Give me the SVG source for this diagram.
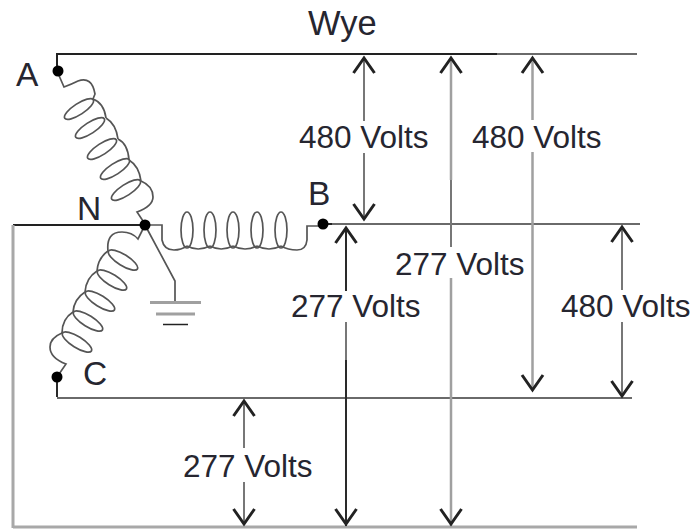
<svg xmlns="http://www.w3.org/2000/svg" width="693" height="530" viewBox="0 0 693 530">
<style>
text{font-family:"Liberation Sans",Arial,sans-serif;font-size:31.500px;fill:#262630}
.n{font-size:33.500px}
.w{fill:none;stroke:#222;stroke-width:2}
.l{fill:none;stroke:#6a6a6a;stroke-width:2}
.g{fill:none;stroke:#a8a8a8;stroke-width:3}
.c{fill:none;stroke:#555;stroke-width:1.700}
.e{fill:none;stroke:#555;stroke-width:1.700}
.a{fill:none;stroke:#222;stroke-width:3}
.s{fill:none;stroke:#777;stroke-width:2}
.t{fill:none;stroke:#a0a0a0;stroke-width:2.500}
.k{fill:none;stroke:#2a2a2a;stroke-width:2}
.d{fill:#000}
</style>
<rect width="693" height="530" fill="#fff"/>
<g id="connectors">
<path class="w" d="M57 71V54H497"/>
<path class="l" d="M497 54H637"/>
<path class="w" d="M145 225H13"/>
<path class="g" d="M13 225V528"/>
<path class="g" d="M13 527H637"/>
<path class="l" d="M330 224H640"/>
<path class="w" d="M323 224H332"/>
<path class="k" d="M57 377V397"/>
<path class="l" d="M57 398H632"/>
<g id="arrows">
<path class="s" d="M364 58V121M364 153V219"/>
<path class="a" d="M353.500 73L364 58L374.500 73M353.500 204L364 219L374.500 204"/>
<path class="t" d="M451 58V180M451 278V526"/>
<path class="s" d="M451 180V247"/>
<path class="a" d="M440.500 73L451 58L461.500 73M440.500 509L451 524L461.500 509"/>
<path class="t" d="M532.500 58V120M532.500 152V390"/>
<path class="a" d="M522 73L532.500 58L543 73M522 375L532.500 390L543 375"/>
<path class="s" d="M622 227V290M622 322V396"/>
<path class="a" d="M611.500 242L622 227L632.500 242M611.500 381L622 396L632.500 381"/>
<path class="k" d="M346 227V291M346 360V526"/>
<path class="s" d="M346 322V360"/>
<path class="a" d="M335.500 243L346 228L356.500 243M335.500 509L346 524L356.500 509"/>
<path class="s" d="M244 400V448M244 482V524"/>
<path class="a" d="M233.500 416L244 401L254.500 416M233.500 509L244 524L254.500 509"/>
</g>
</g>
<g id="coil-a">
<path class="c" d="M57 71L64 87Q72 84 78 81Q92 76 95 94L93 99"/>
<ellipse class="e" cx="79" cy="109" rx="17" ry="5.500" transform="rotate(-33 79 109)"/>
<ellipse class="e" cx="90" cy="128" rx="17" ry="5.500" transform="rotate(-33 90 128)"/>
<ellipse class="e" cx="102" cy="149" rx="17" ry="5.500" transform="rotate(-33 102 149)"/>
<ellipse class="e" cx="115" cy="169" rx="17" ry="5.500" transform="rotate(-33 115 169)"/>
<ellipse class="e" cx="126" cy="190" rx="17" ry="5.500" transform="rotate(-33 126 190)"/>
<path class="c" d="M93 99Q104 103 106 118M106 118Q116 124 118 139M118 139Q128 144 129 160M129 160Q139 166 141 181M141 181Q153 186 153 197Q153 206 137 212L145 224"/>
</g>
<g id="coil-b">
<path class="c" d="M145 225H162V240Q164 250 174 250Q181 250 187 246"/>
<ellipse class="e" cx="187" cy="230" rx="6" ry="18"/>
<ellipse class="e" cx="210" cy="230" rx="6" ry="18"/>
<ellipse class="e" cx="233" cy="230" rx="6" ry="18"/>
<ellipse class="e" cx="257" cy="230" rx="6" ry="18"/>
<ellipse class="e" cx="281" cy="230" rx="6" ry="18"/>
<path class="c" d="M187 246Q198 252 210 246M210 246Q221 252 233 246M233 246Q245 252 257 246M257 246Q269 252 281 246M281 246Q288 250 297 250Q306 250 307 240V226H323"/>
</g>
<g id="coil-c">
<path class="c" d="M57 377L66 364Q50 358 50 347Q50 338 62 333"/>
<ellipse class="e" cx="77" cy="342" rx="17" ry="5.500" transform="rotate(32 77 342)"/>
<ellipse class="e" cx="88" cy="321" rx="17" ry="5.500" transform="rotate(32 88 321)"/>
<ellipse class="e" cx="100" cy="301" rx="17" ry="5.500" transform="rotate(32 100 301)"/>
<ellipse class="e" cx="112" cy="280" rx="17" ry="5.500" transform="rotate(32 112 280)"/>
<ellipse class="e" cx="123" cy="260" rx="17" ry="5.500" transform="rotate(32 123 260)"/>
<path class="c" d="M62 333Q62 319 73 312M73 312Q74 299 85 292M85 292Q86 278 97 271M97 271Q98 258 108 251Q106 232 122 232Q132 232 138 239L145 225"/>
</g>
<g id="ground">
<path class="c" d="M145 225L175 281V302"/>
<path d="M150 302.500H201" stroke="#a0a0a0" stroke-width="3"/>
<path d="M156 314H195" stroke="#a0a0a0" stroke-width="3"/>
<path d="M163 324.500H188" stroke="#222" stroke-width="1.500"/>
</g>
<g id="node-a"><circle class="d" cx="58" cy="71" r="5.500"/><text class="n" x="16" y="86">A</text></g>
<g id="node-n"><circle class="d" cx="145" cy="225" r="5.500"/><text class="n" x="77" y="220">N</text></g>
<g id="node-b"><circle class="d" cx="323" cy="224" r="5.500"/><text class="n" x="308" y="205">B</text></g>
<g id="node-c"><circle class="d" cx="57" cy="377" r="5.500"/><text class="n" x="83" y="385">C</text></g>
<g id="labels">
<text x="308" y="35" style="font-size:34.500px">Wye</text>
<text x="299" y="148">480 Volts</text>
<text x="472" y="148">480 Volts</text>
<text x="395" y="275">277 Volts</text>
<text x="291" y="317">277 Volts</text>
<text x="561" y="317">480 Volts</text>
<text x="183" y="477">277 Volts</text>
</g>
</svg>
